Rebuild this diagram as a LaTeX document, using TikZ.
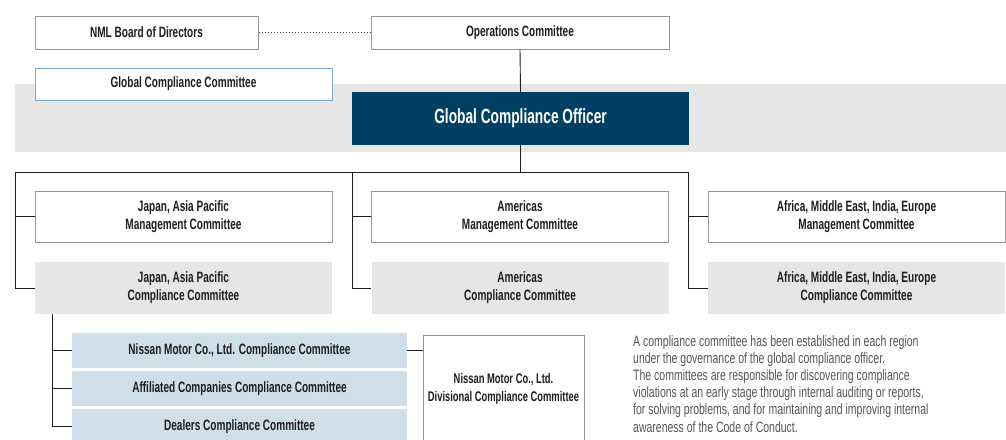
\documentclass[tikz,border=0pt]{standalone}
\usepackage{fontspec}
\setmainfont{Liberation Sans}[FakeStretch=0.67]
\newfontfamily\notefont{Liberation Sans}[FakeStretch=0.70]
\usetikzlibrary{positioning,calc}
\definecolor{officerblue}{RGB}{0,64,100}
\definecolor{bandgray}{RGB}{230,230,230}
\definecolor{paleblue}{RGB}{207,223,233}
\definecolor{framegray}{RGB}{150,150,150}
\definecolor{gccframe}{RGB}{120,170,205}
\definecolor{inkgray}{RGB}{30,30,30}
\definecolor{notegray}{RGB}{85,85,85}

\begin{document}
\begin{tikzpicture}[x=1pt, y=-1pt,
    lbl/.style={font=\fontsize{15}{18}\selectfont\bfseries, text=inkgray, align=center, inner sep=0pt},
    plainbox/.style={lbl, draw=framegray, line width=1pt, fill=white, minimum width=297pt},
    compbox/.style={lbl, fill=bandgray, minimum width=297pt, minimum height=52pt},
    subbox/.style={lbl, fill=paleblue, minimum width=335pt, minimum height=35pt},
    link/.style={draw=inkgray, line width=0.9pt}]
    \useasboundingbox (0,0) rectangle (1006,439);
    \fill[bandgray] (15,84) rectangle (1006,152);

    \node[plainbox, minimum width=223pt, minimum height=33pt] (board) at (146.5,32.5) {NML Board of Directors};
    \node[plainbox, minimum width=298pt, minimum height=33pt] (ops) at (520,32.5) {Operations Committee};
    \node[plainbox, draw=gccframe, minimum height=32pt] (gcc) at (183.5,84) {Global Compliance Committee};
    \node[lbl, fill=officerblue, text=white, font=\fontsize{20.5}{24}\selectfont\bfseries, minimum width=337pt, minimum height=53pt] (officer) at (520.5,118.5) {Global Compliance Officer};

    \node[plainbox, minimum height=51pt] (japMgmt) at (183.5,216.5) {Japan, Asia Pacific\\Management Committee};
    \node[plainbox, minimum height=51pt] (amMgmt) at (520,216.5) {Americas\\Management Committee};
    \node[plainbox, minimum height=51pt] (afMgmt) at (856.5,216.5) {Africa, Middle East, India, Europe\\Management Committee};

    \node[compbox] (japComp) at (183.5,288) {Japan, Asia Pacific\\Compliance Committee};
    \node[compbox] (amComp) at (520,288) {Americas\\Compliance Committee};
    \node[compbox] (afComp) at (856.5,288) {Africa, Middle East, India, Europe\\Compliance Committee};

    \node[subbox] (nmcComp) at (239.5,350.5) {Nissan Motor Co., Ltd. Compliance Committee};
    \node[subbox] (affComp) at (239.5,388.5) {Affiliated Companies Compliance Committee};
    \node[subbox] (dealComp) at (239.5,426.5) {Dealers Compliance Committee};
    \node[plainbox, font=\fontsize{14}{18}\selectfont\bfseries, minimum width=161pt, minimum height=108pt] (divComp) at (503.5,389) {Nissan Motor Co., Ltd.\\Divisional Compliance Committee};

    \node[anchor=north west, align=left, inner sep=0pt, font=\notefont\fontsize{15}{17.2}\selectfont, text=notegray] (note) at (633,335) {A compliance committee has been established in each region\\under the governance of the global compliance officer.\\The committees are responsible for discovering compliance\\violations at an early stage through internal auditing or reports,\\for solving problems, and for maintaining and improving internal\\awareness of the Code of Conduct.};

    \coordinate (busL) at (15,172);
    \coordinate (busM) at (352,172);
    \coordinate (busR) at (688,172);
    \coordinate (subBus) at ($(japComp.south west)+(18,0)$);

    \draw[link, draw=notegray, line width=1.1pt, dash pattern=on 1pt off 2pt] (board.east) -- (ops.west);
    \draw[link] (ops.south) -- (officer.north);
    \draw[link] (officer.south) -- (officer.south |- busL);
    \draw[link] (busL) -- (busR);
    \draw[link] (busL) |- (japMgmt.west);
    \draw[link] (busL) |- (japComp.west);
    \draw[link] (busM) |- (amMgmt.west);
    \draw[link] (busM) |- (amComp.west);
    \draw[link] (busR) |- (afMgmt.west);
    \draw[link] (busR) |- (afComp.west);
    \draw[link] (subBus) |- (nmcComp.west);
    \draw[link] (subBus) |- (affComp.west);
    \draw[link] (subBus) |- (dealComp.west);
    \draw[link] (nmcComp.east) -- (nmcComp.east -| divComp.west);
\end{tikzpicture}
\end{document}
